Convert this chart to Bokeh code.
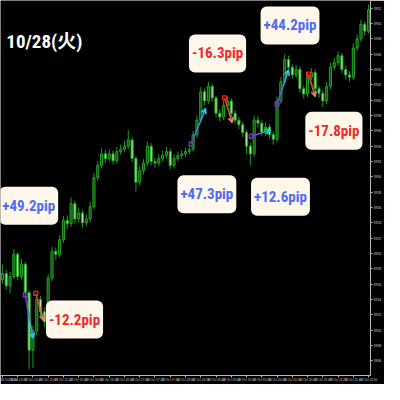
import numpy as np
from bokeh.plotting import figure
from bokeh.models import Range1d, LinearAxis, FixedTicker, Label, Arrow, OpenHead
from bokeh.embed import file_html
from bokeh.resources import INLINE

# ---- candle data (price) ----
opens = [3916.6, 3917.4, 3915.8, 3917.0, 3919.9, 3917.0, 3918.6, 3914.9, 3907.4, 3909.9,
         3914.0, 3912.4, 3911.1, 3916.8, 3920.3, 3919.9, 3921.8, 3924.3, 3923.9, 3926.5,
         3924.5, 3925.3, 3924.0, 3924.5, 3926.1, 3929.9, 3931.5, 3933.0, 3932.4, 3933.0,
         3932.1, 3933.3, 3933.6, 3934.0, 3934.8, 3932.4, 3929.3, 3930.8, 3931.8, 3934.0,
         3932.0, 3931.8, 3932.4, 3932.8, 3933.3, 3931.5, 3932.4, 3932.8, 3933.0, 3933.3,
         3933.6, 3935.5, 3937.4, 3941.1, 3939.9, 3941.8, 3940.3, 3938.3, 3937.8, 3939.3,
         3939.9, 3938.3, 3937.4, 3936.8, 3935.8, 3934.0, 3933.0, 3937.4, 3937.0, 3935.8,
         3936.5, 3935.5, 3934.9, 3939.9, 3942.4, 3945.3, 3944.3, 3943.3, 3944.0, 3941.5,
         3940.8, 3943.0, 3943.6, 3941.5, 3940.9, 3939.9, 3941.8, 3944.3, 3944.9, 3945.8,
         3944.0, 3943.3, 3943.0, 3946.8, 3948.0, 3949.9, 3949.0]
closes = [3917.4, 3915.8, 3917.0, 3919.9, 3917.0, 3918.6, 3914.9, 3907.4, 3909.9, 3914.0,
          3912.4, 3911.1, 3916.8, 3920.3, 3919.9, 3921.8, 3924.3, 3923.9, 3926.5, 3924.5,
          3925.3, 3924.0, 3924.5, 3926.1, 3929.9, 3931.5, 3933.0, 3932.4, 3933.0, 3932.1,
          3933.3, 3933.6, 3934.0, 3934.8, 3932.4, 3929.3, 3930.8, 3931.8, 3934.0, 3932.0,
          3931.8, 3932.4, 3932.8, 3933.3, 3931.5, 3932.4, 3932.8, 3933.0, 3933.3, 3933.6,
          3935.5, 3937.4, 3941.1, 3939.9, 3941.8, 3940.3, 3938.3, 3937.8, 3939.3, 3939.9,
          3938.3, 3937.4, 3936.8, 3935.8, 3934.0, 3933.0, 3937.4, 3937.0, 3935.8, 3936.5,
          3935.5, 3934.9, 3939.9, 3942.4, 3945.3, 3944.3, 3943.3, 3944.0, 3941.5, 3940.8,
          3943.0, 3943.6, 3941.5, 3940.9, 3939.9, 3941.8, 3944.3, 3944.9, 3945.8, 3944.0,
          3943.3, 3943.0, 3946.8, 3948.0, 3949.9, 3949.0, 3951.8]
highs = [3918.6, 3917.9, 3917.6, 3920.6, 3920.2, 3919.3, 3918.9, 3915.2, 3910.6, 3914.6,
         3914.5, 3913.0, 3917.3, 3920.9, 3920.8, 3922.4, 3924.9, 3925.0, 3927.3, 3926.9,
         3925.9, 3925.7, 3925.1, 3926.8, 3930.5, 3932.1, 3933.7, 3933.5, 3933.6, 3933.4,
         3933.9, 3934.2, 3934.7, 3936.1, 3935.2, 3932.7, 3931.4, 3932.3, 3934.6, 3934.4,
         3932.5, 3933.0, 3933.4, 3933.9, 3933.7, 3932.9, 3933.3, 3933.5, 3933.8, 3934.2,
         3936.0, 3938.0, 3941.7, 3941.5, 3942.4, 3942.1, 3940.6, 3938.8, 3939.9, 3940.5,
         3940.2, 3938.7, 3937.8, 3937.2, 3936.1, 3934.4, 3938.0, 3937.9, 3937.4, 3937.1,
         3936.9, 3935.9, 3940.5, 3943.0, 3946.0, 3945.8, 3944.7, 3944.6, 3944.4, 3941.9,
         3943.6, 3944.2, 3944.0, 3941.9, 3941.3, 3942.4, 3944.9, 3945.5, 3946.4, 3946.2,
         3944.5, 3943.8, 3947.4, 3948.6, 3950.5, 3950.3, 3952.5]
lows = [3916.1, 3915.3, 3914.8, 3916.7, 3916.5, 3916.6, 3914.3, 3904.9, 3905.1, 3909.4,
        3911.8, 3910.4, 3910.8, 3916.4, 3919.2, 3919.5, 3921.4, 3923.2, 3923.5, 3923.9,
        3924.0, 3923.4, 3923.6, 3924.1, 3925.8, 3929.5, 3931.1, 3931.8, 3932.0, 3931.6,
        3931.7, 3932.9, 3933.2, 3933.6, 3931.9, 3928.0, 3928.9, 3930.3, 3931.4, 3931.5,
        3931.2, 3931.4, 3932.0, 3932.4, 3931.0, 3931.1, 3932.0, 3932.4, 3932.6, 3932.9,
        3933.3, 3935.1, 3937.0, 3939.3, 3939.5, 3939.8, 3937.8, 3937.2, 3937.4, 3938.9,
        3937.8, 3936.9, 3936.2, 3935.2, 3933.0, 3931.5, 3932.6, 3936.4, 3935.3, 3935.4,
        3935.0, 3934.2, 3934.5, 3939.5, 3942.0, 3943.8, 3942.8, 3942.9, 3941.0, 3940.2,
        3940.4, 3942.6, 3941.0, 3940.3, 3939.1, 3939.5, 3941.4, 3943.9, 3944.5, 3943.5,
        3942.7, 3942.4, 3942.6, 3946.4, 3947.6, 3948.4, 3948.7]

# ---- axis ticks ----
price_ticks = [3904, 3906, 3908, 3910, 3912, 3914, 3916, 3918, 3920, 3922, 3924, 3926, 3928,
               3930, 3932, 3934, 3936, 3938, 3940, 3942, 3944, 3946, 3948, 3950, 3952]
time_ticks = [0, 4, 8, 12, 16, 20, 24, 28, 32, 36, 40, 44, 48, 52, 56, 60, 64, 68, 72, 76,
              80, 84, 88, 92, 96]
time_labels = ["28 Oct 14:00", "28 Oct 14:20", "28 Oct 14:40", "28 Oct 15:00", "28 Oct 15:20",
               "28 Oct 15:40", "28 Oct 16:00", "28 Oct 16:20", "28 Oct 16:40", "28 Oct 17:00",
               "28 Oct 17:20", "28 Oct 17:40", "28 Oct 18:00", "28 Oct 18:20", "28 Oct 18:40",
               "28 Oct 19:00", "28 Oct 19:20", "28 Oct 19:40", "28 Oct 20:00", "28 Oct 20:20",
               "28 Oct 20:40", "28 Oct 21:00", "28 Oct 21:20", "28 Oct 21:40", "28 Oct 22:00"]

# ---- trades ----
trade_entry_idx = [6.0, 8.75, 49.5, 58.25, 65.25, 72.0, 80.25]
trade_entry_price = [3914.6, 3914.8, 3934.3, 3940.3, 3935.3, 3939.5, 3943.4]
trade_exit_idx = [8.0, 10.75, 53.25, 60.25, 70.25, 75.0, 82.0]
trade_exit_price = [3909.0, 3911.3, 3938.9, 3937.1, 3936.1, 3943.9, 3940.5]
trade_pips = ["+49.2pip", "-12.2pip", "+47.3pip", "-16.3pip", "+12.6pip", "+44.2pip", "-17.8pip"]
label_idx = [6.9, 18.9, 53.6, 56.4, 72.9, 75.4, 86.9]
label_price = [3926.25, 3911.4, 3927.75, 3946.1, 3927.4, 3949.75, 3936.0]

title_text = "10/28(火)"

NARROW = ("'Liberation Sans Narrow', 'Noto Sans ExtraCondensed', 'Noto Sans Condensed', "
          "'Roboto Condensed', 'Open Sans Condensed', 'DejaVu Sans Condensed', 'Noto Sans CJK JP', sans-serif")

o = np.array(opens); c = np.array(closes); h = np.array(highs); l = np.array(lows)
idx = np.arange(len(c))
inc = c >= o

p = figure(width=384, height=384, x_range=Range1d(-0.5, 96.5), y_range=Range1d(3904.1, 3953.0),
           output_backend="svg", toolbar_location=None, x_axis_location=None, y_axis_location=None,
           background_fill_color="black", border_fill_color="black", min_border=0,
           min_border_right=11, min_border_bottom=9)
p.grid.grid_line_color = None
p.outline_line_color = None

p.segment(idx, h, idx, l, color="#1e9a1e", line_width=1)
p.vbar(idx[inc], 0.55, o[inc], c[inc], fill_color="#0d4d0d", line_color="#24a524", line_width=1)
p.vbar(idx[~inc], 0.55, o[~inc], c[~inc], fill_color="#a8eaa0", line_color="#24a524", line_width=1)

def hex2rgb(s):
    return np.array([int(s[i:i + 2], 16) for i in (1, 3, 5)], dtype=float)

def rgb2hex(a):
    return "#%02x%02x%02x" % tuple(int(round(v)) for v in a)

N = 10
for k in range(len(trade_pips)):
    win = trade_pips[k].startswith("+")
    c0, c1 = ("#7a2ed6", "#22c8f4") if win else ("#e6281e", "#dc8a66")
    ts = np.linspace(0, 1, N + 1)
    xs = trade_entry_idx[k] + (trade_exit_idx[k] - trade_entry_idx[k]) * ts
    ys = trade_entry_price[k] + (trade_exit_price[k] - trade_entry_price[k]) * ts
    a0, a1 = hex2rgb(c0), hex2rgb(c1)
    cols = [rgb2hex(a0 + (a1 - a0) * t) for t in (ts[:-1] + ts[1:]) / 2]
    p.segment(xs[:-1], ys[:-1], xs[1:], ys[1:], color=cols, line_width=1.6)
    p.add_layout(Arrow(end=OpenHead(size=5, line_color=c1, line_width=1.6),
                       x_start=xs[-2], y_start=ys[-2], x_end=xs[-1], y_end=ys[-1],
                       line_color=c1, line_width=1.6))
    p.scatter([xs[0]], [ys[0]], marker="square", size=4, fill_color=None, line_color=c0, line_width=1.3)
    p.add_layout(Label(x=label_idx[k], y=label_price[k], text=trade_pips[k],
                       text_align="center", text_baseline="middle",
                       text_font=NARROW, text_font_style="bold",
                       text_font_size="15px", text_color="#4f6cf2" if win else "#ee2a2a",
                       background_fill_color="#fff8ea", border_radius=6,
                       padding=dict(left=3, right=3, top=10, bottom=10)))

p.add_layout(Label(x=11.0, y=3947.6, text=title_text, text_align="center", text_baseline="middle",
                   text_font=NARROW, text_font_style="bold",
                   text_font_size="19px", text_color="white"))

yaxis = LinearAxis(ticker=FixedTicker(ticks=price_ticks), major_label_text_font_size="3.5px",
                   major_label_text_color="#d0d0d0", axis_line_color="#b8b8b8",
                   major_tick_line_color="#b8b8b8", major_tick_out=2, major_tick_in=0,
                   minor_tick_line_color=None, major_label_standoff=1)
p.add_layout(yaxis, "right")
xaxis = LinearAxis(ticker=FixedTicker(ticks=time_ticks), major_label_text_font_size="3px",
                   major_label_text_color="#d0d0d0", axis_line_color="#b8b8b8",
                   major_tick_line_color="#b8b8b8", major_tick_out=2, major_tick_in=0,
                   minor_tick_line_color=None, major_label_standoff=1,
                   major_label_overrides={t: lab for t, lab in zip(time_ticks, time_labels)})
p.add_layout(xaxis, "below")

open("out.html", "w").write(file_html(p, INLINE))
